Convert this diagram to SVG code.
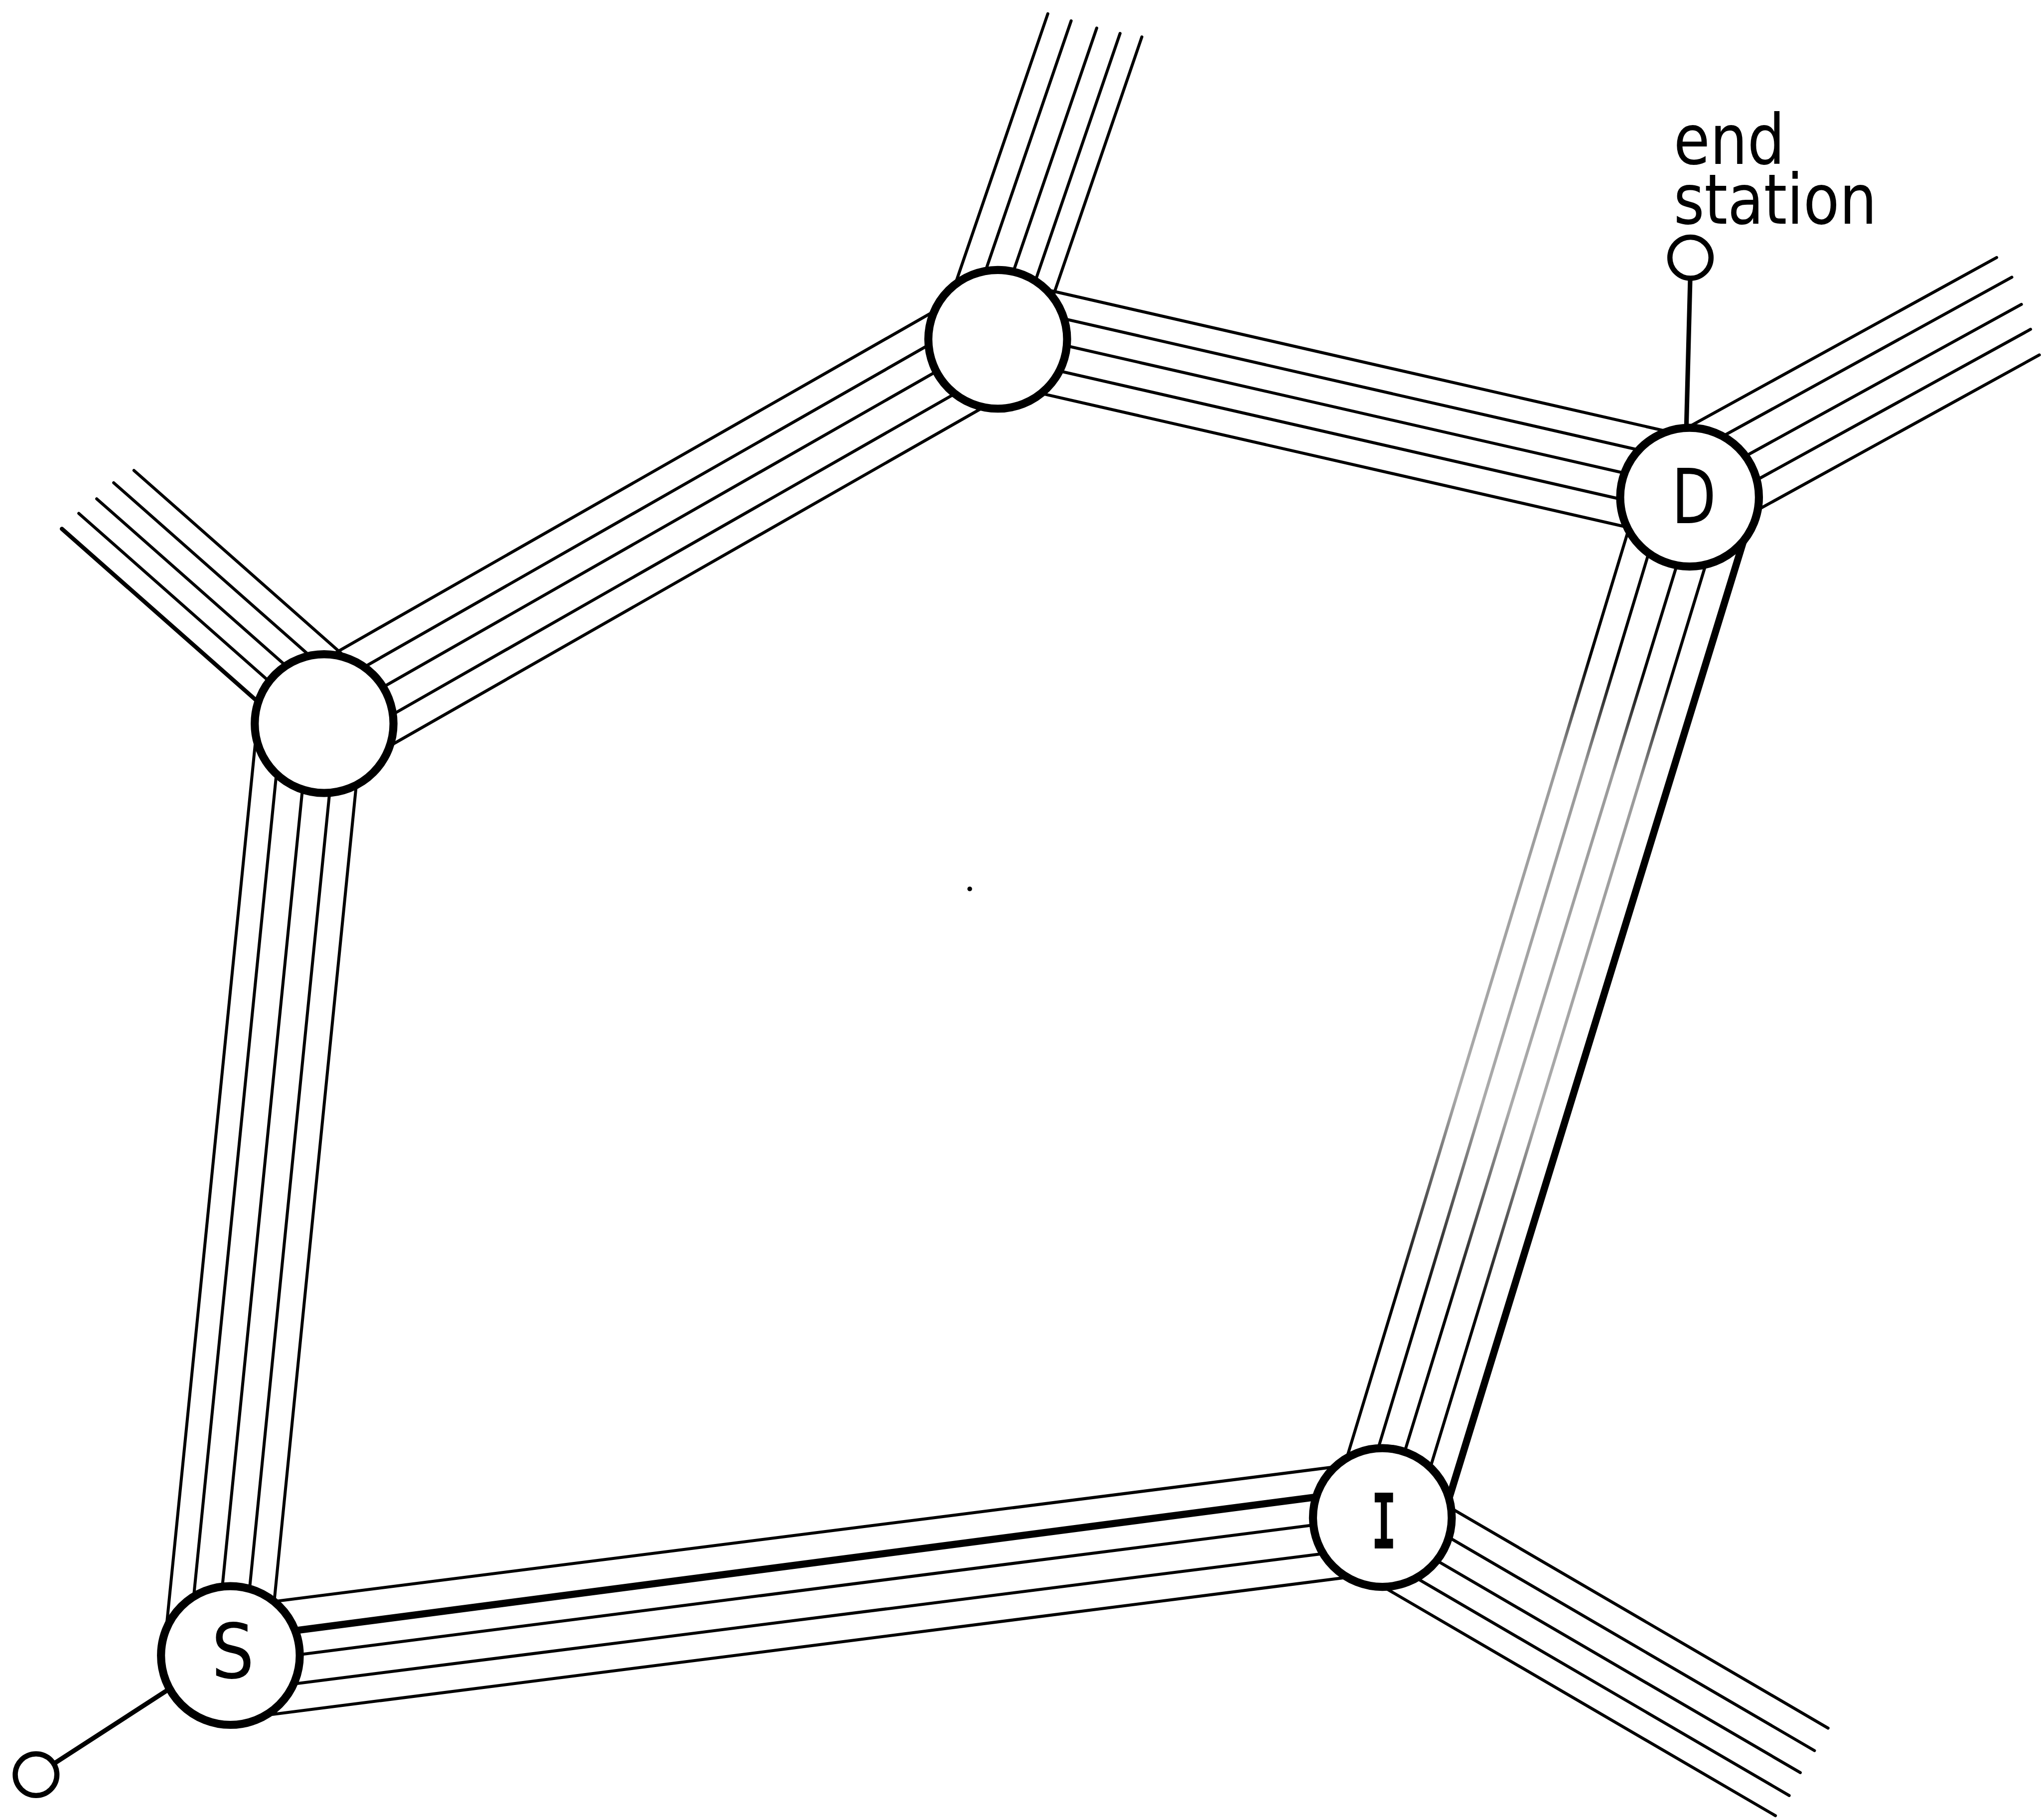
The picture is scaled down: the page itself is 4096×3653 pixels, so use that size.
<svg xmlns="http://www.w3.org/2000/svg" width="4096" height="3653" viewBox="0 0 4096 3653">
<defs>
<style>
.l{stroke:#000;stroke-width:2.3;fill:none;stroke-linecap:round}
.t{stroke:#000;stroke-width:5.5;fill:none;stroke-linecap:round}
.t4{stroke:#000;stroke-width:3.2;fill:none;stroke-linecap:round}
.f{stroke:url(#fade);stroke-width:2.3;fill:none;stroke-linecap:round}
.n{fill:#fff;stroke:#000;stroke-width:6.2}
.e{fill:#fff;stroke:#000;stroke-width:4}
.el{stroke:#000;stroke-width:3.5;stroke-linecap:round}
.lbl{font-family:"DejaVu Sans","Liberation Sans",sans-serif;fill:#000}
.mono{font-family:"DejaVu Sans Mono","Liberation Mono",monospace;font-weight:bold;fill:#000}
</style>
<linearGradient id="fade" gradientUnits="userSpaceOnUse" x1="0" y1="0" x2="818.8" y2="0">
<stop offset="0" stop-color="#000"/>
<stop offset="0.17" stop-color="#000"/>
<stop offset="0.27" stop-color="#9a9a9a"/>
<stop offset="0.6" stop-color="#aaa"/>
<stop offset="0.72" stop-color="#444"/>
<stop offset="0.8" stop-color="#000"/>
<stop offset="1" stop-color="#000"/>
</linearGradient>
</defs>
<rect width="4096" height="3653" fill="#fff"/>
<g transform="scale(2.612245)">
<g id="connectors">
<g id="stub-top" transform="translate(766.5,260.7) rotate(-71.1)">
<line class="l" x1="0" y1="-44.6" x2="249.1" y2="-44.6"/>
<line class="l" x1="0" y1="-25.9" x2="249.8" y2="-25.9"/>
<line class="l" x1="0" y1="-5.5" x2="250.9" y2="-5.5"/>
<line class="l" x1="0" y1="12.8" x2="252.8" y2="12.8"/>
<line class="l" x1="0" y1="29.5" x2="255.7" y2="29.5"/>
</g>
<g id="stub-D" transform="translate(1298,382) rotate(-28.82)">
<line class="l" x1="0" y1="-47.6" x2="295.5" y2="-47.6"/>
<line class="l" x1="0" y1="-28.7" x2="298.4" y2="-28.7"/>
<line class="l" x1="0" y1="-6.9" x2="294.8" y2="-6.9"/>
<line class="l" x1="0" y1="13.3" x2="291.7" y2="13.3"/>
<line class="l" x1="0" y1="33.8" x2="288.1" y2="33.8"/>
</g>
<g id="stub-I" transform="translate(1062,1166) rotate(30.26)">
<line class="l" x1="0" y1="-32.8" x2="377.3" y2="-32.8"/>
<line class="l" x1="0" y1="-12.6" x2="377" y2="-12.6"/>
<line class="l" x1="0" y1="7.5" x2="376.1" y2="7.5"/>
<line class="l" x1="0" y1="27" x2="377.6" y2="27"/>
<line class="l" x1="0" y1="45.7" x2="376.3" y2="45.7"/>
</g>
<g id="stub-left" transform="translate(249,556) rotate(-138.57)">
<line class="l" x1="0" y1="49.2" x2="238.3" y2="49.2"/>
<line class="l" x1="0" y1="31.8" x2="243.7" y2="31.8"/>
<line class="l" x1="0" y1="13.9" x2="245.3" y2="13.9"/>
<line class="l" x1="0" y1="-3.6" x2="248.2" y2="-3.6"/>
<line class="t4" x1="0" y1="-21.1" x2="250.1" y2="-21.1"/>
</g>
<g id="link-top-D" transform="translate(766.5,260.7) rotate(12.86)">
<line class="l" x1="0" y1="-45.5" x2="545.2" y2="-45.5"/>
<line class="l" x1="0" y1="-26.7" x2="545.2" y2="-26.7"/>
<line class="l" x1="0" y1="-6.9" x2="545.2" y2="-6.9"/>
<line class="l" x1="0" y1="13.2" x2="545.2" y2="13.2"/>
<line class="l" x1="0" y1="33.1" x2="545.2" y2="33.1"/>
</g>
<g id="link-top-left" transform="translate(766.5,260.7) rotate(150.29)">
<line class="l" x1="0" y1="42.9" x2="595.8" y2="42.9"/>
<line class="l" x1="0" y1="22.5" x2="595.8" y2="22.5"/>
<line class="l" x1="0" y1="1.9" x2="595.8" y2="1.9"/>
<line class="l" x1="0" y1="-20" x2="595.8" y2="-20"/>
<line class="l" x1="0" y1="-39.9" x2="595.8" y2="-39.9"/>
</g>
<g id="link-left-S" transform="translate(249,556) rotate(95.74)">
<line class="l" x1="0" y1="51.1" x2="719.6" y2="51.1"/>
<line class="l" x1="0" y1="32.6" x2="719.6" y2="32.6"/>
<line class="l" x1="0" y1="11.5" x2="719.6" y2="11.5"/>
<line class="l" x1="0" y1="-9.5" x2="719.6" y2="-9.5"/>
<line class="l" x1="0" y1="-29.3" x2="719.6" y2="-29.3"/>
</g>
<g id="link-S-I" transform="translate(177,1272) rotate(-6.83)">
<line class="l" x1="0" y1="-36.9" x2="891.3" y2="-43.2"/>
<line class="t" x1="0" y1="-12.5" x2="891.3" y2="-22.2"/>
<line class="l" x1="0" y1="6.1" x2="891.3" y2="-1"/>
<line class="l" x1="0" y1="27.8" x2="891.3" y2="21.8"/>
<line class="l" x1="0" y1="49" x2="891.3" y2="42.2"/>
</g>
<g id="link-D-I" transform="translate(1298,382) rotate(106.75)">
<line class="f" x1="0" y1="37.6" x2="818.8" y2="39.5"/>
<line class="f" x1="0" y1="17.6" x2="818.8" y2="18.5"/>
<line class="f" x1="0" y1="-6" x2="818.8" y2="-1.5"/>
<line class="f" x1="0" y1="-27" x2="818.8" y2="-24"/>
<line class="t" x1="0" y1="-49.5" x2="818.8" y2="-44.6"/>
</g>
<line id="link-end-D" class="el" x1="1298.5" y1="214" x2="1295.5" y2="330"/>
<line id="link-end-S" class="el" x1="41.3" y1="1355.2" x2="140" y2="1291.3"/>
</g>
<g id="node-top"><circle class="n" cx="766.5" cy="260.7" r="53.3"/></g>
<g id="node-left"><circle class="n" cx="249" cy="556" r="53.3"/></g>
<g id="node-D"><circle class="n" cx="1298" cy="382" r="53.3"/>
<text class="lbl" font-size="58" text-anchor="middle" transform="translate(1301.3,402) scale(0.764,1)">D</text></g>
<g id="node-I"><circle class="n" cx="1062" cy="1166" r="53.3"/>
<text class="mono" font-size="59" text-anchor="middle" transform="translate(1063.2,1189.6) scale(0.55,1)">I</text></g>
<g id="node-S"><circle class="n" cx="177" cy="1272" r="53.3"/>
<text class="lbl" font-size="58" text-anchor="middle" transform="translate(178.9,1289.5) scale(0.89,1)">S</text></g>
<g id="end-station-D"><circle class="e" cx="1298.7" cy="198" r="15.8"/>
<text class="lbl" font-size="53" transform="translate(1285.8,0) scale(0.856,1)"><tspan x="0" y="125.8">end</tspan><tspan x="0" y="172">station</tspan></text></g>
<g id="end-station-S"><circle class="e" cx="27.7" cy="1363.6" r="16"/></g>
<circle cx="745" cy="683" r="1.8" fill="#000"/>
</g>
</svg>
